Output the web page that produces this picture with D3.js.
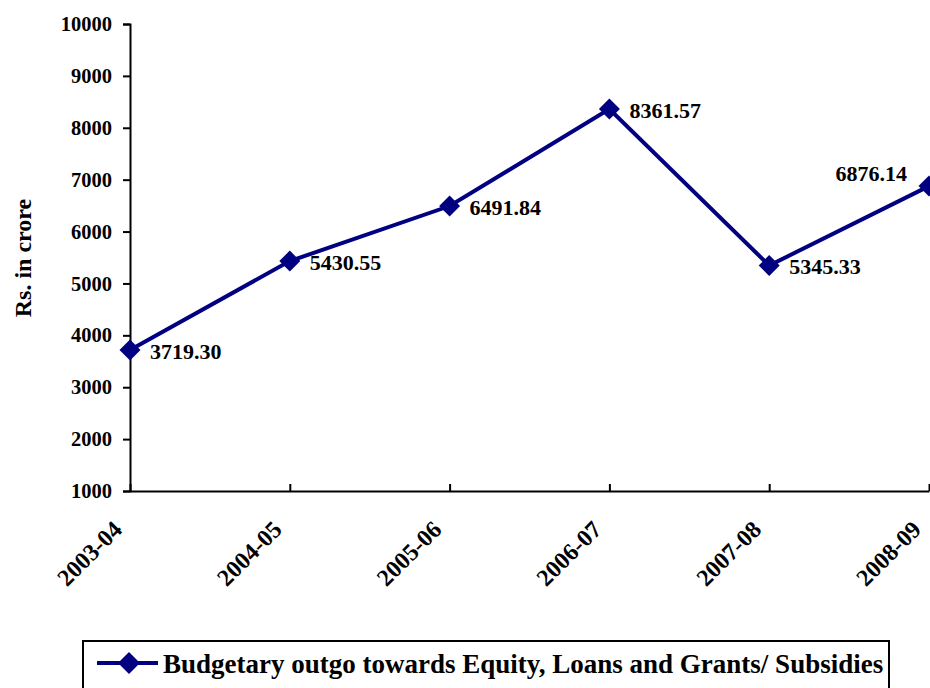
<!DOCTYPE html>
<html><head><meta charset="utf-8">
<script src="https://cdn.jsdelivr.net/npm/d3@7"></script>
<style>
html,body{margin:0;padding:0;background:#fff;}
svg{display:block;}
text{font-family:"Liberation Serif","Times New Roman",serif;font-weight:bold;fill:#000;}
</style></head>
<body>
<svg id="chart" width="930" height="688"></svg>
<script>
const categories = ["2003-04","2004-05","2005-06","2006-07","2007-08","2008-09"];
const values = [3719.30, 5430.55, 6491.84, 8361.57, 5345.33, 6876.14];
const valueLabels = ["3719.30","5430.55","6491.84","8361.57","5345.33","6876.14"];
const yTicks = [1000,2000,3000,4000,5000,6000,7000,8000,9000,10000];
const seriesName = "Budgetary outgo towards Equity, Loans and Grants/ Subsidies";
const yTitle = "Rs. in crore";

const svg = d3.select("#chart");
const mLeft = 130, mRight = 929, mTop = 24, mBottom = 491;
const color = "#000080";

const x = d3.scalePoint().domain(categories).range([mLeft, mRight]).padding(0);
const y = d3.scaleLinear().domain([1000, 10000]).range([mBottom, mTop]);

// Y axis
const yAxis = svg.append("g").attr("transform", `translate(${mLeft},0)`)
  .call(d3.axisLeft(y).tickValues(yTicks).tickSize(7).tickPadding(11).tickFormat(d3.format("d")));
yAxis.select(".domain").attr("stroke","#000").attr("stroke-width",2);
yAxis.selectAll(".tick line").attr("stroke","#000").attr("stroke-width",2);
yAxis.selectAll("text").style("font-size","20.5px").attr("font-family",null);

// X axis
const xAxis = svg.append("g").attr("transform", `translate(0,${mBottom})`)
  .call(d3.axisBottom(x).tickSize(-7).tickSizeOuter(0));
xAxis.select(".domain").attr("stroke","#000").attr("stroke-width",2);
xAxis.selectAll(".tick line").attr("stroke","#000").attr("stroke-width",2);
xAxis.selectAll("text")
  .attr("font-family",null)
  .style("font-size","24px")
  .attr("text-anchor","end")
  .attr("x",-7).attr("y",40).attr("dy",0)
  .attr("transform", "rotate(-45,-7,40)");

// Y title
svg.append("text")
  .attr("transform","translate(31,258) rotate(-90)")
  .attr("text-anchor","middle")
  .style("font-size","24px")
  .text(yTitle);

// Line
const data = categories.map((c,i)=>({c, v: values[i], label: valueLabels[i]}));
svg.append("path").datum(data)
  .attr("fill","none").attr("stroke",color).attr("stroke-width",4)
  .attr("stroke-linejoin","miter")
  .attr("d", d3.line().x(d=>x(d.c)).y(d=>y(d.v)));

const diamond = d3.symbol().type(d3.symbolSquare).size(220);
svg.selectAll(".pt").data(data).enter().append("path")
  .attr("class","pt")
  .attr("d", diamond)
  .attr("fill", color)
  .attr("transform", d=>`translate(${x(d.c)},${y(d.v)}) rotate(45)`);

// Data labels
svg.selectAll(".lbl").data(data).enter().append("text")
  .attr("class","lbl")
  .style("font-size","22px")
  .attr("x", (d,i)=> i===data.length-1 ? x(d.c)-22 : x(d.c)+20)
  .attr("y", (d,i)=> i===data.length-1 ? y(d.v)-13 : y(d.v)+1)
  .attr("dy","0.35em")
  .attr("text-anchor", (d,i)=> i===data.length-1 ? "end" : "start")
  .text(d=>d.label);

// Legend
const lg = svg.append("g");
lg.append("rect").attr("x",83).attr("y",641).attr("width",806).attr("height",60)
  .attr("fill","#fff").attr("stroke","#000").attr("stroke-width",2);
lg.append("line").attr("x1",97).attr("x2",158).attr("y1",663).attr("y2",663)
  .attr("stroke",color).attr("stroke-width",4);
lg.append("path").attr("d", d3.symbol().type(d3.symbolSquare).size(240)).attr("fill",color)
  .attr("transform","translate(129,663) rotate(45)");
lg.append("text").attr("x",163).attr("y",673)
  .style("font-size","27px").text(seriesName);
</script>
</body></html>
